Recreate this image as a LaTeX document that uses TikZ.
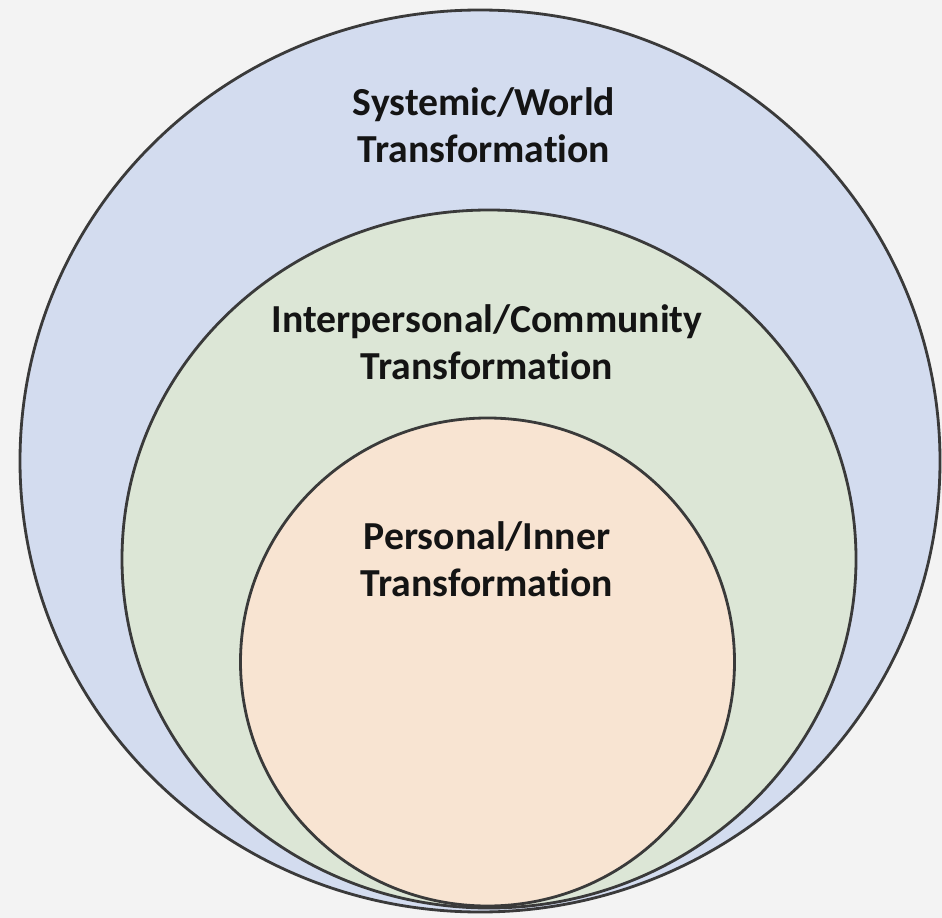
\documentclass[tikz,border=0pt]{standalone}
\usepackage{fontspec}
\setmainfont{Carlito}[Ligatures={NoCommon}]
\usetikzlibrary{positioning}
\definecolor{backgray}{HTML}{F3F3F3}
\definecolor{worldblue}{HTML}{D3DCEF}
\definecolor{communitygreen}{HTML}{DCE6D6}
\definecolor{innerpeach}{HTML}{F8E4D2}
\definecolor{ringline}{HTML}{3A3A3A}
\tikzset{
	ring/.style={draw=ringline, line width=1.6pt},
	ringtext/.style={font=\bfseries\fontsize{22.6}{26.5}\selectfont, align=center, text=black!92}
}

\begin{document}
\begin{tikzpicture}[x=0.02cm, y=-0.02cm]
		%%%%% START %%%%%
		
		\useasboundingbox (0, 0) rectangle (942, 918);
		\fill[backgray] (0, 0) rectangle (942, 918);
		
		\draw[ring, fill=worldblue] (480, 461) ellipse (460 and 451);
		\draw[ring, fill=communitygreen] (489, 559) ellipse (367 and 349);
		\draw[ring, fill=innerpeach] (487.5, 662) ellipse (247 and 244);
		
		\node[ringtext] (world) at (484, 125) {Systemic/World\\Transformation};
		\node[ringtext] (community) at (487, 342) {Interpersonal/Community\\Transformation};
		\node[ringtext] (inner) at (487, 559) {Personal/Inner\\Transformation};
		
		%%%%% END %%%%%
\end{tikzpicture}
\end{document}
